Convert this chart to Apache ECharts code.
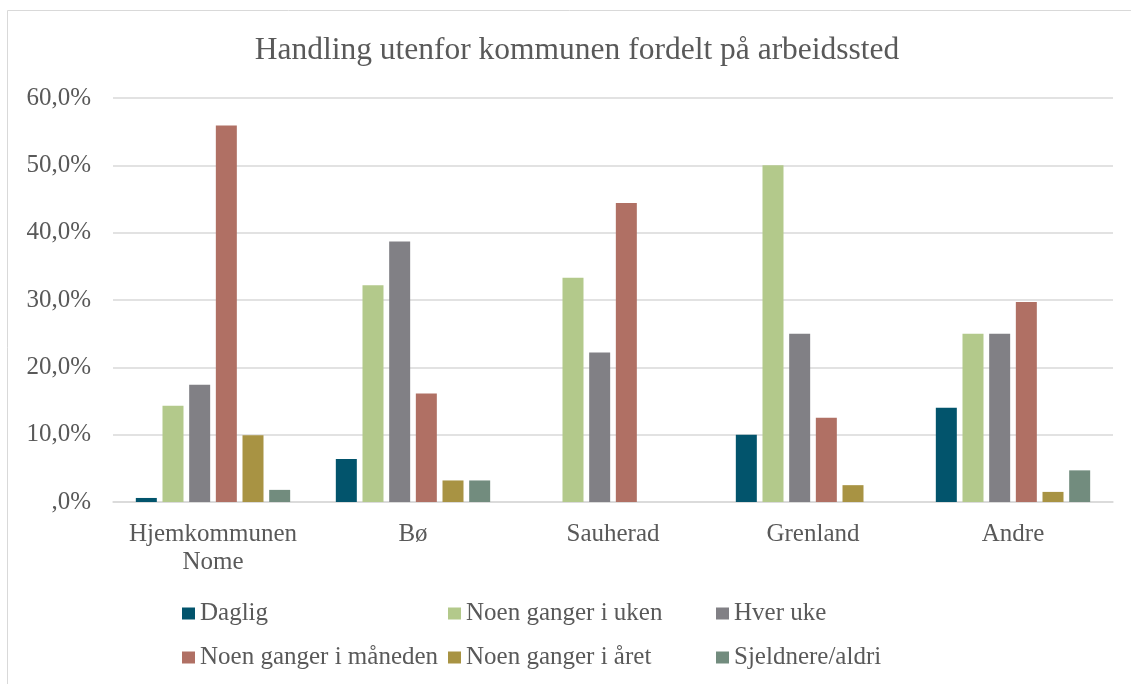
<!DOCTYPE html>
<html>
<head>
<meta charset="utf-8">
<script src="https://cdn.jsdelivr.net/npm/echarts@6/dist/echarts.min.js"></script>
<style>
  html, body { margin: 0; padding: 0; background: #fff; }
  #chart { width: 1131px; height: 684px; }
</style>
</head>
<body>
<div id="chart"></div>
<script>
  // kategorier og verdier (prosent)
  var categories = ['Hjemkommunen\nNome', 'Bø', 'Sauherad', 'Grenland', 'Andre'];
  var seriesNames = ['Daglig', 'Noen ganger i uken', 'Hver uke', 'Noen ganger i måneden', 'Noen ganger i året', 'Sjeldnere/aldri'];
  var daglig = [0.6, 6.4, 0, 10.0, 14.0];
  var ukentlig = [14.3, 32.2, 33.3, 50.0, 25.0];
  var hverUke = [17.4, 38.7, 22.2, 25.0, 25.0];
  var maanedlig = [55.9, 16.1, 44.4, 12.5, 29.7];
  var aarlig = [9.9, 3.2, 0, 2.5, 1.5];
  var sjeldnere = [1.8, 3.2, 0, 0, 4.7];
  var colors = ['#02546c', '#b3c98b', '#818085', '#b07064', '#a89343', '#728c7e'];
  var yTicks = [0, 10, 20, 30, 40, 50, 60];

  var allData = [daglig, ukentlig, hverUke, maanedlig, aarlig, sjeldnere];
  var font = 'Liberation Serif';
  var textColor = '#595959';

  var myChart = echarts.init(document.getElementById('chart'));

  // en legende per element for faste kolonner
  var legendPos = [[182, 600], [448, 600], [716, 600], [182, 644], [448, 644], [716, 644]];
  var legends = seriesNames.map(function (n, i) {
    return {
      data: [n],
      left: legendPos[i][0],
      top: legendPos[i][1],
      padding: 0,
      icon: 'rect',
      itemWidth: 13,
      itemHeight: 12,
      selectedMode: false,
      textStyle: { fontFamily: font, fontSize: 25, color: textColor, lineHeight: 27, padding: [0, 0, 0, 0] }
    };
  });

  var series = seriesNames.map(function (n, i) {
    return {
      name: n,
      type: 'bar',
      data: allData[i],
      barWidth: 21,
      barGap: '27%',
      itemStyle: { color: colors[i] },
      emphasis: { disabled: true }
    };
  });

  var option = {
    animation: false,
    color: colors,
    textStyle: { fontFamily: font },
    title: {
      text: 'Handling utenfor kommunen fordelt på arbeidssted',
      left: 572,
      top: 28,
      textAlign: 'center',
      textStyle: { fontFamily: font, fontSize: 31.5, fontWeight: 'normal', color: textColor, lineHeight: 36 }
    },
    graphic: [{
      type: 'rect',
      silent: true,
      shape: { x: 7.5, y: 10.5, width: 1200, height: 800 },
      style: { fill: 'none', stroke: '#d9d9d9', lineWidth: 1 }
    }],
    legend: legends,
    grid: { left: 113, right: 18, top: 98, bottom: 182 },
    xAxis: {
      type: 'category',
      data: categories,
      axisTick: { show: false },
      axisLine: { lineStyle: { color: '#d9d9d9', width: 1.5 } },
      axisLabel: { fontFamily: font, fontSize: 25, color: textColor, lineHeight: 28, margin: 18, interval: 0 }
    },
    yAxis: {
      type: 'value',
      min: yTicks[0],
      max: yTicks[yTicks.length - 1],
      interval: 10,
      axisLine: { show: false },
      axisTick: { show: false },
      splitLine: { lineStyle: { color: '#d9d9d9', width: 1.5 } },
      axisLabel: {
        fontFamily: font, fontSize: 25, color: textColor, margin: 22,
        formatter: function (v) {
          if (v === 0) return ',0%';
          return v.toFixed(1).replace('.', ',') + '%';
        }
      }
    },
    series: series
  };
  myChart.setOption(option);
</script>
</body>
</html>
